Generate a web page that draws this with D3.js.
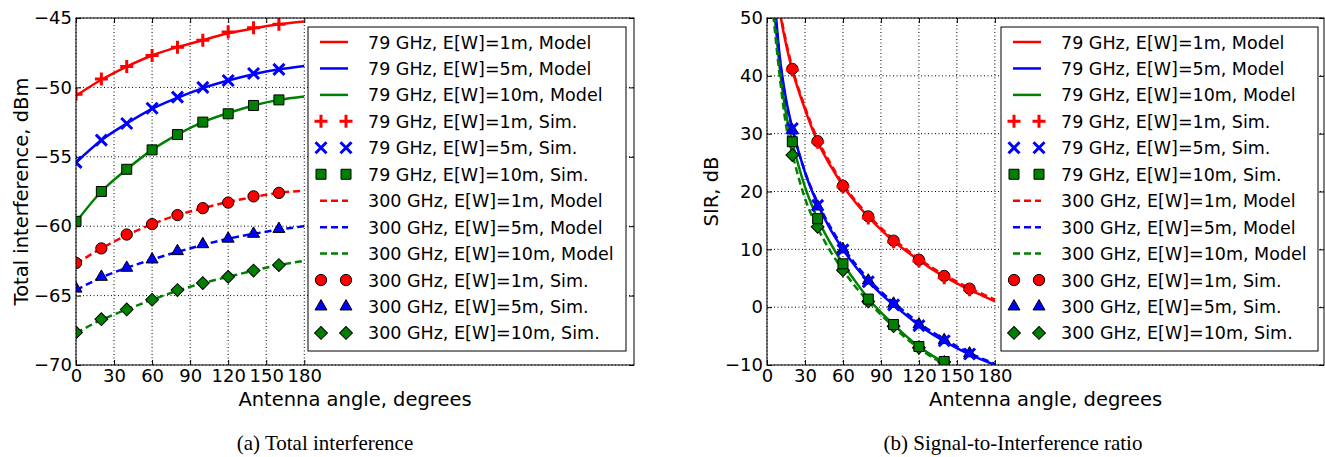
<!DOCTYPE html>
<html>
<head>
<meta charset="utf-8">
<script src="https://cdn.jsdelivr.net/npm/d3@7"></script>
<style>
body { margin: 0; background: #fff; }
text { font-family: "DejaVu Sans", sans-serif; fill: #000; }
</style>
</head>
<body>
<div id="chart"></div>
<script>
// ticks
const xTicks = [0, 30, 60, 90, 120, 150, 180]
const yTicksA = [-70, -65, -60, -55, -50, -45]
const yTicksB = [-10, 0, 10, 20, 30, 40, 50]

const legendLabels = [
    '79 GHz, E[W]=1m, Model', '79 GHz, E[W]=5m, Model', '79 GHz, E[W]=10m, Model',
    '79 GHz, E[W]=1m, Sim.', '79 GHz, E[W]=5m, Sim.', '79 GHz, E[W]=10m, Sim.',
    '300 GHz, E[W]=1m, Model', '300 GHz, E[W]=5m, Model', '300 GHz, E[W]=10m, Model',
    '300 GHz, E[W]=1m, Sim.', '300 GHz, E[W]=5m, Sim.', '300 GHz, E[W]=10m, Sim.'
]

// (a) total interference, dBm
const modelAnglesA = [0, 20, 40, 60, 80, 100, 120, 140, 160, 180]
const simAnglesA = [0, 20, 40, 60, 80, 100, 120, 140, 160]
const modelA_79_1 = [-50.6, -49.45, -48.5, -47.7, -47.1, -46.6, -46.1, -45.75, -45.45, -45.25]
const modelA_79_5 = [-55.4, -53.8, -52.6, -51.55, -50.75, -50.05, -49.5, -49.05, -48.7, -48.45]
const modelA_79_10 = [-59.7, -57.5, -55.9, -54.5, -53.4, -52.5, -51.85, -51.3, -50.9, -50.65]
const modelA_300_1 = [-62.7, -61.6, -60.65, -59.85, -59.2, -58.7, -58.25, -57.9, -57.6, -57.45]
const modelA_300_5 = [-64.6, -63.7, -63.0, -62.4, -61.85, -61.35, -60.9, -60.55, -60.25, -60.0]
const modelA_300_10 = [-67.7, -66.75, -66.0, -65.3, -64.65, -64.1, -63.65, -63.2, -62.8, -62.5]
const simA_79_1 = [-50.5, -49.4, -48.5, -47.7, -47.1, -46.6, -46.0, -45.7, -45.45]
const simA_79_5 = [-55.4, -53.8, -52.6, -51.5, -50.7, -50.0, -49.5, -49.0, -48.7]
const simA_79_10 = [-59.65, -57.5, -55.9, -54.5, -53.4, -52.5, -51.9, -51.3, -50.9]
const simA_300_1 = [-62.65, -61.6, -60.6, -59.85, -59.2, -58.7, -58.3, -57.85, -57.6]
const simA_300_5 = [-64.5, -63.65, -63.0, -62.4, -61.8, -61.3, -60.9, -60.55, -60.2]
const simA_300_10 = [-67.65, -66.7, -66.0, -65.3, -64.6, -64.1, -63.65, -63.2, -62.8]

// (b) SIR, dB
const modelAnglesB = [5, 10, 15, 20, 30, 40, 50, 60, 70, 80, 90, 100, 110, 120, 130, 140, 150, 160, 170, 180]
const simAnglesB = [20, 40, 60, 80, 100, 120, 140, 160]
const modelB_79_1 = [62, 51.5, 45.5, 41.0, 34.2, 28.6, 24.5, 21.0, 18.1, 15.6, 13.4, 11.4, 9.7, 8.1, 6.6, 5.3, 4.1, 3.0, 2.0, 1.0]
const modelB_79_5 = [56, 43.5, 36, 31.0, 23.3, 17.8, 13.5, 10.0, 7.0, 4.5, 2.3, 0.4, -1.4, -3.1, -4.6, -5.9, -7.1, -8.2, -9.1, -10.0]
const modelB_79_10 = [53, 41.5, 33.5, 28.6, 20.8, 15.3, 11.1, 7.5, 4.4, 1.5, -0.9, -3.0, -5.0, -6.8, -8.3, -9.6, -10.9, null, null, null]
const modelB_300_1 = [62.5, 52, 46, 41.4, 34.6, 29.0, 24.9, 21.3, 18.4, 15.9, 13.7, 11.7, 10.0, 8.4, 6.9, 5.6, 4.4, 3.3, 2.3, 1.3]
const modelB_300_5 = [55, 43, 35.6, 30.8, 23.4, 18.1, 13.9, 10.4, 7.4, 4.9, 2.7, 0.8, -1.0, -2.7, -4.2, -5.5, -6.8, -7.9, -8.9, -9.8]
const modelB_300_10 = [50.5, 40, 31.5, 26.6, 18.8, 13.7, 9.7, 6.4, 3.5, 1.0, -1.3, -3.4, -5.4, -7.1, -8.6, -9.9, -11.2, null, null, null]
const simB_79_1 = [41.0, 28.5, 20.8, 15.4, 11.3, 8.0, 5.1, 3.0]
const simB_79_5 = [30.9, 17.6, 9.9, 4.4, 0.4, -3.2, -5.8, -8.1]
const simB_79_10 = [28.6, 15.3, 7.5, 1.4, -3.0, -6.8, -9.4, null]
const simB_300_1 = [41.2, 28.7, 21.0, 15.7, 11.5, 8.2, 5.4, 3.2]
const simB_300_5 = [30.6, 17.4, 10.0, 4.6, 0.6, -3.0, -5.7, -8.0]
const simB_300_10 = [26.3, 13.9, 6.4, 1.0, -3.3, -7.0, -9.5, null]

const W = 1325, H = 457
const colors = ['#ff0000', '#0000ff', '#008000']
// legend order: 3 solid, 3 sim79, 3 dashed, 3 sim300
const simMarkers79 = ['plus', 'cross', 'square']
const simMarkers300 = ['circle', 'triangle', 'diamond']

const markerPath = {
    plus: 'M-6.5,0H6.5M0,-6.5V6.5',
    cross: 'M-5.5,-5.5L5.5,5.5M-5.5,5.5L5.5,-5.5',
    square: d3.symbol(d3.symbolSquare, 100)(),
    circle: d3.symbol(d3.symbolCircle, 100)(),
    triangle: d3.symbol(d3.symbolTriangle, 62)(),
    diamond: d3.symbol(d3.symbolSquare, 82)()
}

function addMarker(sel, type, color, px, py) {
    const p = sel.append('path')
        .attr('d', markerPath[type])
        .attr('transform', `translate(${px},${py})` + (type == 'diamond' ? ' rotate(45)' : ''))
    if (type == 'plus' || type == 'cross')
        p.attr('fill', 'none').attr('stroke', color).attr('stroke-width', 3)
    else
        p.attr('fill', color).attr('stroke', '#000').attr('stroke-width', 1)
}

const svg = d3.select('#chart').append('svg')
    .attr('width', W)
    .attr('height', H)
    .style('display', 'block')

function drawPanel(o) {
    const x = d3.scaleLinear().domain([0, 440]).range([o.left, o.right])
    const y = d3.scaleLinear().domain(o.yDomain).range([o.bottom, o.top])
    const g = svg.append('g')

    svg.append('clipPath').attr('id', 'clip' + o.id)
        .append('rect')
        .attr('x', o.left).attr('y', o.top)
        .attr('width', o.right - o.left).attr('height', o.bottom - o.top)

    // dotted grid
    g.selectAll('.vg').data(xTicks).enter().append('line')
        .attr('x1', d => x(d)).attr('x2', d => x(d))
        .attr('y1', o.top).attr('y2', o.bottom)
        .attr('stroke', '#000').attr('stroke-width', 1).attr('stroke-dasharray', '1,2.5')
    g.selectAll('.hg').data(o.yTicks).enter().append('line')
        .attr('x1', o.left).attr('x2', o.right)
        .attr('y1', d => y(d)).attr('y2', d => y(d))
        .attr('stroke', '#000').attr('stroke-width', 1).attr('stroke-dasharray', '1,2.5')

    const plot = g.append('g').attr('clip-path', `url(#clip${o.id})`)
    const line = d3.line()
        .defined(d => d[1] != null)
        .x(d => x(d[0])).y(d => y(d[1]))
        .curve(d3.curveMonotoneX)

    o.models.forEach((vals, i) => {
        plot.append('path')
            .datum(o.modelAngles.map((a, j) => [a, vals[j]]))
            .attr('d', line)
            .attr('fill', 'none')
            .attr('stroke', colors[i % 3])
            .attr('stroke-width', 2.5)
            .attr('stroke-dasharray', i >= 3 ? '7,4' : null)
    })

    // 300 GHz sims under 79 GHz sims
    const simOrder = [3, 4, 5, 0, 1, 2]
    simOrder.forEach(i => {
        const type = i < 3 ? simMarkers79[i] : simMarkers300[i - 3]
        o.sims[i].forEach((v, j) => {
            if (v == null) return
            addMarker(plot, type, colors[i % 3], x(o.simAngles[j]), y(v))
        })
    })

    // frame
    g.append('rect')
        .attr('x', o.left).attr('y', o.top)
        .attr('width', o.right - o.left).attr('height', o.bottom - o.top)
        .attr('fill', 'none').attr('stroke', '#000').attr('stroke-width', 1)

    // axes, ticks pointing inwards
    const fs = '18px'
    const xb = g.append('g').attr('transform', `translate(0,${o.bottom})`)
        .call(d3.axisBottom(x).tickValues(xTicks).tickSizeInner(-5).tickSizeOuter(0).tickPadding(4))
    const xt = g.append('g').attr('transform', `translate(0,${o.top})`)
        .call(d3.axisTop(x).tickValues(xTicks).tickSizeInner(-5).tickSizeOuter(0).tickFormat(''))
    const yl = g.append('g').attr('transform', `translate(${o.left},0)`)
        .call(d3.axisLeft(y).tickValues(o.yTicks).tickSizeInner(-5).tickSizeOuter(0).tickPadding(4))
    const yr = g.append('g').attr('transform', `translate(${o.right},0)`)
        .call(d3.axisRight(y).tickValues(o.yTicks).tickSizeInner(-5).tickSizeOuter(0).tickFormat(''))
    ;[xb, xt, yl, yr].forEach(a => {
        a.select('.domain').remove()
        a.selectAll('line').attr('stroke', '#000')
        a.selectAll('text').style('font-family', '"DejaVu Sans", sans-serif').style('font-size', fs).attr('fill', '#000')
    })

    // axis labels
    g.append('text')
        .attr('x', (o.left + o.right) / 2).attr('y', 406)
        .style('text-anchor', 'middle').style('font-size', '19.5px')
        .text('Antenna angle, degrees')
    g.append('text')
        .attr('transform', `translate(${o.ylabelX},${(o.top + o.bottom) / 2}) rotate(-90)`)
        .style('text-anchor', 'middle').style('font-size', '19.5px')
        .text(o.ylabel)

    // caption
    g.append('text')
        .attr('x', o.captionX).attr('y', 450)
        .style('text-anchor', 'middle')
        .style('font-family', '"Liberation Serif", "Times New Roman", serif')
        .style('font-size', '21px')
        .text(o.caption)

    // legend
    const lg = g.append('g')
    lg.append('rect')
        .attr('x', o.legend[0]).attr('y', o.legend[1])
        .attr('width', o.legend[2] - o.legend[0]).attr('height', o.legend[3] - o.legend[1])
        .attr('fill', '#fff').attr('stroke', '#000').attr('stroke-width', 1)
    const lx = o.legend[0] + 12
    const order = [0, 1, 2, 'm0', 'm1', 'm2', 3, 4, 5, 'm3', 'm4', 'm5']
    legendLabels.forEach((label, r) => {
        const ry = o.legend[1] + 15 + r * 26.45
        const k = order[r]
        if (typeof k == 'number') {
            lg.append('line')
                .attr('x1', lx).attr('x2', lx + 28)
                .attr('y1', ry).attr('y2', ry)
                .attr('stroke', colors[k % 3]).attr('stroke-width', 2.5)
                .attr('stroke-dasharray', k >= 3 ? '7,4' : null)
        } else {
            const m = +k[1]
            const type = m < 3 ? simMarkers79[m] : simMarkers300[m - 3]
            addMarker(lg, type, colors[m % 3], lx + 1, ry)
            addMarker(lg, type, colors[m % 3], lx + 26, ry)
        }
        lg.append('text')
            .attr('x', lx + 48).attr('y', ry + 6.5)
            .style('font-size', '17.5px')
            .text(label)
    })
}

drawPanel({
    id: 'a', left: 76, right: 634, top: 18, bottom: 365,
    yDomain: [-70, -45], yTicks: yTicksA,
    modelAngles: modelAnglesA, simAngles: simAnglesA,
    models: [modelA_79_1, modelA_79_5, modelA_79_10, modelA_300_1, modelA_300_5, modelA_300_10],
    sims: [simA_79_1, simA_79_5, simA_79_10, simA_300_1, simA_300_5, simA_300_10],
    ylabel: 'Total interference, dBm', ylabelX: 28,
    caption: '(a) Total interference', captionX: 325,
    legend: [308, 27, 626, 351]
})

drawPanel({
    id: 'b', left: 767, right: 1324, top: 18, bottom: 365,
    yDomain: [-10, 50], yTicks: yTicksB,
    modelAngles: modelAnglesB, simAngles: simAnglesB,
    models: [modelB_79_1, modelB_79_5, modelB_79_10, modelB_300_1, modelB_300_5, modelB_300_10],
    sims: [simB_79_1, simB_79_5, simB_79_10, simB_300_1, simB_300_5, simB_300_10],
    ylabel: 'SIR, dB', ylabelX: 718,
    caption: '(b) Signal-to-Interference ratio', captionX: 1013,
    legend: [1001, 27, 1318, 351]
})
</script>
</body>
</html>
